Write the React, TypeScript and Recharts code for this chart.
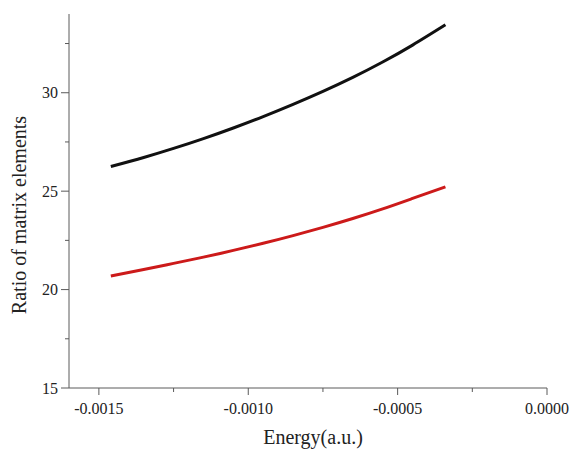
import React from 'react';
import { LineChart, Line, XAxis, YAxis, Label } from 'recharts';

const energy = [-0.00146, -0.00135, -0.00125, -0.00115, -0.00105, -0.00095, -0.00085, -0.00075, -0.00065, -0.00055, -0.00045, -0.00034];
const ratioBlack = [26.25, 26.71, 27.17, 27.67, 28.21, 28.79, 29.41, 30.07, 30.78, 31.56, 32.42, 33.45];
const ratioRed = [20.69, 21.02, 21.33, 21.65, 21.99, 22.35, 22.74, 23.16, 23.61, 24.1, 24.63, 25.22];

const xTicks = [-0.0015, -0.00125, -0.001, -0.00075, -0.0005, -0.00025, 0];
const yTicks = [15, 17.5, 20, 22.5, 25, 27.5, 30, 32.5];
const xDomain = [-0.0016, 0];
const yDomain = [15, 34];

const xTitle = 'Energy(a.u.)';
const yTitle = 'Ratio of matrix elements';

const data = energy.map((e, i) => ({ energy: e, black: ratioBlack[i], red: ratioRed[i] }));

const FONT = '"Liberation Serif", "Times New Roman", Times, serif';
const AXIS = '#5a5a5a';
const TEXT = '#222';

const isMult = (v: number, step: number) => Math.abs(v / step - Math.round(v / step)) < 1e-6;

const XTick = (props: any) => {
  const { x, y, payload } = props;
  const v = payload.value as number;
  const major = isMult(v, 0.0005);
  return (
    <g>
      <line x1={x} x2={x} y1={y} y2={y + (major ? 7 : 4)} stroke={AXIS} strokeWidth={1} />
      {major && (
        <text x={x} y={y + 26} textAnchor="middle" fontFamily={FONT} fontSize={16} style={{ fontFamily: FONT, fontSize: 16 }} fill={TEXT}>
          {v === 0 ? '0.0000' : v.toFixed(4)}
        </text>
      )}
    </g>
  );
};

const YTick = (props: any) => {
  const { x, y, payload } = props;
  const v = payload.value as number;
  const major = isMult(v, 5);
  return (
    <g>
      <line x1={x} x2={x - (major ? 8 : 4)} y1={y} y2={y} stroke={AXIS} strokeWidth={1} />
      {major && (
        <text x={x - 11} y={y + 5.5} textAnchor="end" fontFamily={FONT} fontSize={16} style={{ fontFamily: FONT, fontSize: 16 }} fill={TEXT}>
          {String(v)}
        </text>
      )}
    </g>
  );
};

export default function App() {
  return (
    <div style={{ position: 'absolute', left: 0, top: 0, background: '#fff', fontFamily: FONT }}>
      <LineChart width={569} height={452} data={data} margin={{ top: 14, right: 22, bottom: 0, left: 0 }} style={{ fontFamily: FONT }}>
        <XAxis
          type="number"
          dataKey="energy"
          domain={xDomain}
          ticks={xTicks}
          allowDataOverflow
          height={64}
          tickSize={0}
          tickMargin={0}
          tickLine={false}
          axisLine={{ stroke: AXIS, strokeWidth: 1 }}
          tick={(p: any) => <XTick {...p} />}
          interval={0}
        >
          <Label
            content={(p: any) => {
              const vb = p.viewBox;
              return (
                <text x={vb.x + vb.width / 2 + 5} y={vb.y + 56} textAnchor="middle" style={{ fontFamily: FONT, fontSize: 20 }} fill={TEXT}>
                  {xTitle}
                </text>
              );
            }}
          />
        </XAxis>
        <YAxis
          type="number"
          domain={yDomain}
          ticks={yTicks}
          allowDataOverflow
          width={69}
          tickSize={0}
          tickMargin={0}
          tickLine={false}
          axisLine={{ stroke: AXIS, strokeWidth: 1 }}
          tick={(p: any) => <YTick {...p} />}
          interval={0}
        >
          <Label
            content={(p: any) => {
              const vb = p.viewBox;
              const cx = 26;
              const cy = vb.y + vb.height / 2 + 14;
              return (
                <text x={cx} y={cy} transform={`rotate(-90, ${cx}, ${cy})`} textAnchor="middle" style={{ fontFamily: FONT, fontSize: 20 }} fill={TEXT}>
                  {yTitle}
                </text>
              );
            }}
          />
        </YAxis>
        <Line type="natural" dataKey="black" stroke="#111111" strokeWidth={3} dot={false} isAnimationActive={false} />
        <Line type="natural" dataKey="red" stroke="#cc1a1a" strokeWidth={3} dot={false} isAnimationActive={false} />
      </LineChart>
    </div>
  );
}
